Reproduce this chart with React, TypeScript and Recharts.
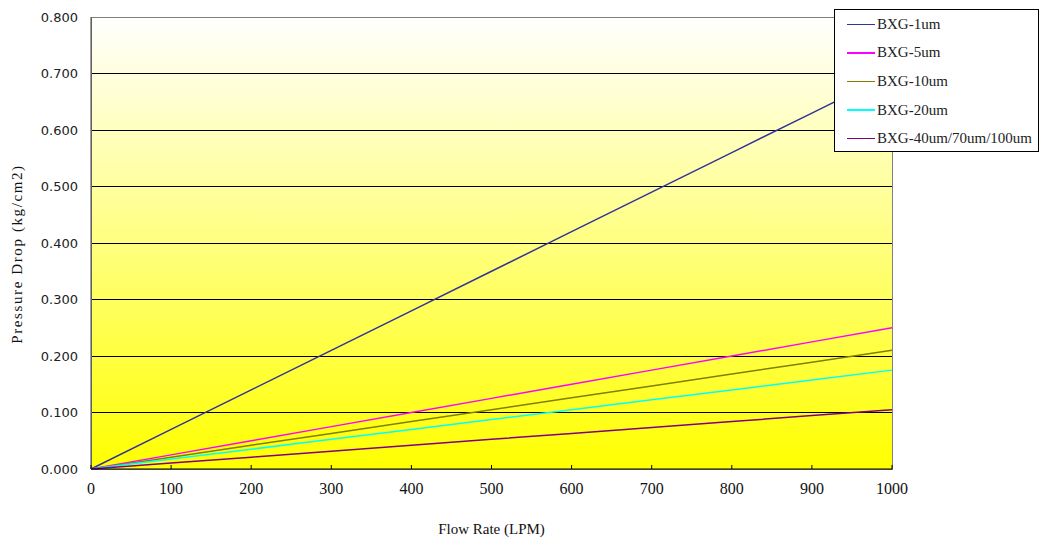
import {
  LineChart,
  Line,
  XAxis,
  YAxis,
  CartesianGrid,
  Legend,
  ReferenceArea,
} from 'recharts';

const flowRate = [0, 100, 200, 300, 400, 500, 600, 700, 800, 900, 1000];

const bxg1 = [0, 0.07, 0.14, 0.21, 0.28, 0.35, 0.42, 0.49, 0.56, 0.63, 0.7];
const bxg5 = [0, 0.025, 0.05, 0.075, 0.1, 0.125, 0.15, 0.175, 0.2, 0.225, 0.25];
const bxg10 = [0, 0.021, 0.042, 0.063, 0.084, 0.105, 0.126, 0.147, 0.168, 0.189, 0.21];
const bxg20 = [0, 0.0175, 0.035, 0.0525, 0.07, 0.0875, 0.105, 0.1225, 0.14, 0.1575, 0.175];
const bxg40 = [0, 0.0105, 0.021, 0.0315, 0.042, 0.0525, 0.063, 0.0735, 0.084, 0.0945, 0.105];

const seriesNames = ['BXG-1um', 'BXG-5um', 'BXG-10um', 'BXG-20um', 'BXG-40um/70um/100um'];
const seriesColors = ['#333399', '#ff00ff', '#808000', '#00ffff', '#800080'];
const seriesKeys = ['s1', 's5', 's10', 's20', 's40'];

const xTicks = [0, 100, 200, 300, 400, 500, 600, 700, 800, 900, 1000];
const yTicks = [0, 0.1, 0.2, 0.3, 0.4, 0.5, 0.6, 0.7, 0.8];

const data = flowRate.map((f, i) => ({
  flow: f,
  s1: bxg1[i],
  s5: bxg5[i],
  s10: bxg10[i],
  s20: bxg20[i],
  s40: bxg40[i],
}));

const serif = '"Liberation Serif", serif';

// inward tick marks + label for the x axis
const XTick = (props: any) => {
  const { x, y, payload } = props;
  const axisY = y - 14;
  return (
    <g>
      <line x1={x} x2={x} y1={axisY} y2={axisY - 4} stroke="#000" />
      <text x={x} y={y} dy="0.71em" textAnchor="middle" fontFamily={serif} fontSize={16} fill="#111">
        {payload.value}
      </text>
    </g>
  );
};

// rotated y-axis title, slightly below the plot middle like the original
const YTitle = (props: any) => {
  const { viewBox } = props;
  const cx = viewBox.x + 17;
  const cy = viewBox.y + viewBox.height / 2 + 11;
  return (
    <text
      x={cx}
      y={cy}
      transform={`rotate(-90, ${cx}, ${cy})`}
      textAnchor="middle"
      dominantBaseline="central"
      fontFamily={serif}
      fontSize={15}
      letterSpacing={1.6}
      fill="#111"
    >
      Pressure Drop (kg/cm2)
    </text>
  );
};

const LegendBox = () => (
  <div
    style={{
      border: '1px solid #000',
      background: '#fff',
      width: 203,
      height: 141,
      boxSizing: 'content-box',
    }}
  >
    {seriesNames.map((name, i) => (
      <div key={name} style={{ display: 'flex', alignItems: 'center', height: 28.6 }}>
        <div
          style={{
            marginLeft: 12,
            width: 28,
            height: i === 1 || i === 3 ? 2 : 1,
            background: seriesColors[i],
          }}
        />
        <span style={{ marginLeft: 2, fontFamily: serif, fontSize: 15, color: '#222' }}>{name}</span>
      </div>
    ))}
  </div>
);

export default function App() {
  return (
    <div style={{ position: 'absolute', left: 0, top: 0 }}>
      <style>{'.recharts-cartesian-grid line, .recharts-reference-area-rect { shape-rendering: crispEdges; }'}</style>
      <LineChart
        width={1039}
        height={542}
        data={data}
        margin={{ top: 17, right: 147, left: 0, bottom: 0 }}
      >
        <defs>
          <linearGradient id="plotBg" x1="0" y1="0" x2="0" y2="1">
            <stop offset="0%" stopColor="#ffffff" />
            <stop offset="100%" stopColor="#ffff00" />
          </linearGradient>
        </defs>
        <CartesianGrid vertical={false} stroke="#000" fill="url(#plotBg)" fillOpacity={1} />
        <ReferenceArea x1={0} x2={1000} y1={0} y2={0.8} fill="none" stroke="#808080" ifOverflow="visible" />
        <XAxis
          dataKey="flow"
          type="number"
          domain={[0, 1000]}
          ticks={xTicks}
          height={73}
          tickSize={0}
          tickMargin={14}
          tick={<XTick />}
          axisLine={{ stroke: '#000' }}
          label={{
            value: 'Flow Rate (LPM)',
            position: 'insideBottom',
            offset: 8,
            style: { fontFamily: serif, fontSize: 15, fill: '#111' },
          }}
        />
        <YAxis
          type="number"
          domain={[0, 0.8]}
          ticks={yTicks}
          width={91}
          tickSize={0}
          tickMargin={13}
          tickLine={false}
          axisLine={{ stroke: '#404040' }}
          tickFormatter={(v: number) => v.toFixed(3)}
          tick={{ fontFamily: '"DejaVu Sans", sans-serif', fontSize: 13, fill: '#222' }}
          label={{ content: <YTitle /> }}
        />
        <Legend
          layout="horizontal"
          verticalAlign="middle"
          align="center"
          content={<LegendBox />}
          wrapperStyle={{ position: 'absolute', left: 834, top: 9, width: 205 }}
        />
        {seriesKeys.map((k, i) => (
          <Line
            key={k}
            type="linear"
            dataKey={k}
            name={seriesNames[i]}
            stroke={seriesColors[i]}
            strokeWidth={1.5}
            dot={false}
            isAnimationActive={false}
          />
        ))}
      </LineChart>
    </div>
  );
}
